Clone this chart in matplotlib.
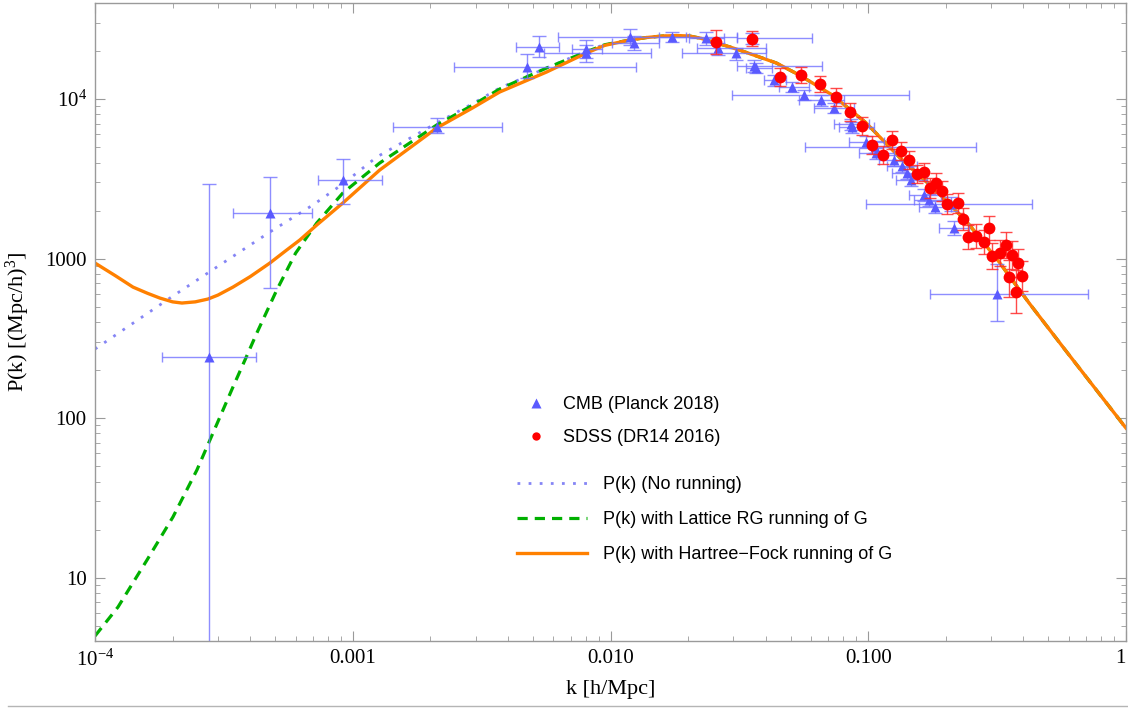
import numpy as np
import matplotlib
matplotlib.use('Agg')
import matplotlib.pyplot as plt
from matplotlib.lines import Line2D
from matplotlib.ticker import FixedLocator, LogLocator, NullFormatter

# model curves
hf_k = [1.0e-4, 1.2e-4, 1.404e-4, 1.6e-4, 1.786e-4, 2.0e-4, 2.174e-4, 2.45e-4, 2.742e-4, 3.0e-4,
        3.43e-4, 4.0e-4, 4.77e-4, 5.5e-4, 6.23e-4, 7.25e-4, 9.15e-4, 1.272e-3, 2.116e-3, 2.9e-3,
        3.713e-3, 5.65e-3, 8.07e-3, 0.0095, 0.01185, 0.0138, 0.0159, 0.018, 0.02024, 0.0225,
        0.02485, 0.028, 0.03162, 0.03781, 0.044, 0.054, 0.07253, 0.09824, 0.1319, 0.1771,
        0.2398, 0.322, 0.4207, 0.5854, 1.0]
hf_p = [937, 780, 662, 605, 565, 535, 526, 535, 557, 590,
        662, 770, 937, 1120, 1306, 1622, 2228, 3587, 6578, 8750,
        11060, 14770, 19430, 21700, 23430, 24300, 24830, 25000, 24830, 24000,
        22770, 21600, 20290, 18340, 16820, 14140, 10600, 7071, 4329, 2807,
        1719, 951, 526, 263, 86.5]

lat_k = [1.0e-4, 1.228e-4, 1.591e-4, 2.006e-4, 2.485e-4, 2.77e-4, 3.43e-4, 3.848e-4, 4.244e-4, 5.07e-4,
         6.0e-4, 7.25e-4, 9.15e-4, 1.272e-3, 2.116e-3, 2.9e-3, 3.713e-3, 5.65e-3, 8.07e-3, 0.0095,
         0.01185, 0.0138, 0.0159, 0.018, 0.02024, 0.0225, 0.02485, 0.028, 0.03162, 0.03781,
         0.044, 0.054, 0.07253, 0.09824, 0.1319, 0.1771, 0.2398, 0.322, 0.4207, 0.5854, 1.0]
lat_p = [4.30, 6.53, 12.87, 23.95, 47.2, 70.7, 156.5, 237.8, 341, 634,
         1080, 1670, 2575, 3970, 6871, 9100, 11550, 15650, 19800, 21900,
         23430, 24300, 24830, 25000, 24830, 24000, 22770, 21600, 20290, 18340,
         16820, 14140, 10600, 7071, 4329, 2807, 1719, 951, 526, 263, 86.5]

nr_k = [1.0e-4, 2.006e-4, 3.051e-4, 4.77e-4, 6.998e-4, 9.15e-4, 1.239e-3, 2.116e-3, 2.9e-3, 3.713e-3,
        5.65e-3, 8.07e-3, 0.0095, 0.01185, 0.0138, 0.0159, 0.018, 0.02024, 0.0225, 0.02485,
        0.028, 0.03162, 0.03781, 0.044, 0.054, 0.07253, 0.09824, 0.1319, 0.1771, 0.2398,
        0.322, 0.4207, 0.5854, 1.0]
nr_p = [270.7, 582, 910.5, 1466, 2164, 2932, 4329, 7071, 9300, 11720,
        15650, 20000, 22000, 23430, 24300, 24830, 25000, 24830, 24000, 22770,
        21600, 20290, 18340, 16820, 14140, 10600, 7071, 4329, 2807, 1719,
        951, 526, 263, 86.5]

# CMB (Planck 2018) points with error bounds
cmb_k = [2.77e-4, 4.77e-4, 9.15e-4, 2.12e-3, 4.73e-3, 5.26e-3, 8.07e-3, 8.07e-3, 0.01185, 0.01239,
         0.01739, 0.02355, 0.02621, 0.03079, 0.03551, 0.03615, 0.0368, 0.04323, 0.05074, 0.05649,
         0.06573, 0.07382, 0.08593, 0.0867, 0.09824, 0.1065, 0.1074, 0.1261, 0.1354, 0.1416,
         0.1468, 0.1649, 0.1724, 0.1818, 0.2098, 0.2156, 0.3162]
cmb_p = [241, 1929, 3106, 6674, 15870, 21180, 20580, 19430, 24470, 22440,
         24470, 24130, 20880, 19430, 24130, 16100, 15650, 13160, 11890, 10600,
         9856, 8783, 6970, 6674, 5376, 5002, 4586, 4146, 3801, 3436,
         3106, 2501, 2327, 2103, 2196, 1553, 599]
cmb_k_lo = [1.82e-4, 3.43e-4, 7.32e-4, 1.43e-3, 2.46e-3, 4.28e-3, 7.06e-3, 5.50e-3, 6.23e-3, 0.01018,
            0.01548, 0.02024, 0.02173, 0.01901, 0.03107, 0.03107, 0.03366, 0.03952, 0.04519, 0.02971,
            0.054, 0.06176, 0.07382, 0.07718, 0.08441, 0.05699, 0.09229, 0.1103, 0.1185, 0.1239,
            0.1284, 0.1442, 0.1508, 0.1577, 0.09824, 0.1884, 0.1739]
cmb_k_hi = [4.21e-4, 6.94e-4, 1.295e-3, 3.81e-3, 0.01261, 6.29e-3, 9.31e-3, 0.01442, 0.03107, 0.01548,
            0.0197, 0.02766, 0.04024, 0.04024, 0.06067, 0.06633, 0.04244, 0.04811, 0.05906, 0.1442,
            0.0807, 0.08826, 0.1009, 0.1055, 0.1153, 0.2622, 0.1261, 0.1468, 0.1548, 0.1649,
            0.1694, 0.1919, 0.2024, 0.2098, 0.4323, 0.2463, 0.7122]
cmb_p_lo = [1.0, 653, 2196, 6120, 13540, 18340, 18080, 17060, 21810, 20290,
            22770, 21810, 18880, 17560, 22120, 14770, 14560, 12060, 11060, 9856,
            9040, 8171, 6392, 6120, 4930, 4586, 4205, 3801, 3485, 3151,
            2848, 2294, 2134, 1929, 1985, 1404, 406]
cmb_p_hi = [2932, 3243, 4205, 7603, 19150, 24830, 23430, 21810, 27480, 24830,
            26310, 26310, 22440, 20880, 25930, 17560, 16820, 14140, 12780, 11390,
            10600, 9438, 7494, 7173, 5861, 5455, 4930, 4456, 4087, 3747,
            3387, 2727, 2538, 2294, 2430, 1719, 923]

# SDSS (DR14 2016) points
sdss_k = [0.02576, 0.03551, 0.04559, 0.05497, 0.06516, 0.07516, 0.08515, 0.09479, 0.1036, 0.1239,
          0.1143, 0.1342, 0.1442, 0.1548, 0.1649, 0.1739, 0.1835, 0.1936, 0.2024, 0.2234,
          0.2335, 0.2441, 0.2622, 0.2816, 0.2944, 0.3024, 0.3247, 0.3426, 0.3615, 0.3814,
          0.3519, 0.3952, 0.3747]
sdss_p = [22770, 23780, 13730, 14140, 12420, 10290, 8287, 6771, 5147, 5534,
          4456, 4721, 4146, 3387, 3485, 2767, 2975, 2650, 2196, 2228,
          1769, 1364, 1384, 1269, 1553, 1037, 1083, 1215, 1052, 937,
          766, 777, 617]
sdss_p_lo = [19150, 21490, 12060, 12600, 11060, 9040, 7280, 5946, 4520, 4859,
             3913, 4146, 3640, 2975, 3061, 2394, 2575, 2294, 1901, 1929,
             1509, 1147, 1164, 1067, 1306, 859, 897, 1007, 859, 766,
             574, 626, 455]
sdss_p_hi = [27080, 26690, 15650, 15870, 13940, 11720, 9438, 7715, 5861, 6301,
             5073, 5376, 4721, 3857, 3969, 3197, 3436, 3061, 2538, 2575,
             2073, 1622, 1646, 1509, 1847, 1251, 1306, 1466, 1287, 1147,
             979, 965, 847]

x_ticks = [1e-4, 1e-3, 1e-2, 1e-1, 1]
x_tick_labels = ['$10^{-4}$', '0.001', '0.010', '0.100', '1']
y_ticks = [10, 100, 1000, 1e4]
y_tick_labels = ['10', '100', '1000', '$10^{4}$']

CMB_COLOR = '#5a5aff'
CMB_ERR = '#7272ff'
SDSS_COLOR = '#ff0000'


def main():
    plt.rcParams['font.family'] = ['Liberation Serif', 'DejaVu Serif']
    plt.rcParams['mathtext.fontset'] = 'custom'
    plt.rcParams['mathtext.rm'] = 'Liberation Serif'
    plt.rcParams['mathtext.it'] = 'Liberation Serif:italic'

    fig = plt.figure(figsize=(11.28, 7.10), dpi=100)
    ax = fig.add_axes([95 / 1128, 69 / 710, 1031 / 1128, 638 / 710])
    ax.set_xscale('log')
    ax.set_yscale('log')

    nr_line, = ax.plot(nr_k, nr_p, color='#8585f5', lw=2.0, ls=(0, (1, 3)),
                       label='P(k) (No running)')
    lat_line, = ax.plot(lat_k, lat_p, color='#00b000', lw=2.3, ls=(0, (3.2, 2.2)),
                        label='P(k) with Lattice RG running of G')
    hf_line, = ax.plot(hf_k, hf_p, color='#ff8000', lw=2.4,
                       label='P(k) with Hartree\u2212Fock running of G')

    k = np.array(cmb_k)
    p = np.array(cmb_p)
    xerr = [k - np.array(cmb_k_lo), np.array(cmb_k_hi) - k]
    yerr = [p - np.array(cmb_p_lo), np.array(cmb_p_hi) - p]
    ax.errorbar(k, p, xerr=xerr, fmt='none', ecolor=CMB_ERR, elinewidth=1.0,
                capsize=3.5, capthick=1.0, alpha=0.8)
    ax.errorbar(k, p, yerr=yerr, fmt='none', ecolor=CMB_ERR, elinewidth=1.0,
                capsize=5, capthick=1.0, alpha=0.8)
    ax.plot(k, p, '^', ms=7.5, color=CMB_COLOR, mec='none')

    ks = np.array(sdss_k)
    ps = np.array(sdss_p)
    yerr_s = [ps - np.array(sdss_p_lo), np.array(sdss_p_hi) - ps]
    ax.errorbar(ks, ps, yerr=yerr_s, fmt='none', ecolor='#ff2a2a', elinewidth=1.0,
                capsize=4.5, capthick=1.0, alpha=0.85)
    ax.plot(ks, ps, 'o', ms=8.5, color=SDSS_COLOR, mec='none')

    ax.set_xlim(1e-4, 1)
    ax.set_ylim(4.0, 4.0e4)

    ax.xaxis.set_major_locator(FixedLocator(x_ticks))
    ax.set_xticklabels(x_tick_labels)
    ax.get_xticklabels()[-1].set_ha('right')
    ax.xaxis.set_minor_locator(LogLocator(base=10, subs=range(2, 10), numticks=20))
    ax.xaxis.set_minor_formatter(NullFormatter())
    ax.yaxis.set_major_locator(FixedLocator(y_ticks))
    ax.set_yticklabels(y_tick_labels)
    ax.yaxis.set_minor_locator(LogLocator(base=10, subs=range(2, 10), numticks=20))
    ax.yaxis.set_minor_formatter(NullFormatter())

    ax.tick_params(which='both', direction='in', top=True, right=True, color='#9a9a9a')
    ax.tick_params(which='major', length=7, width=0.8, labelsize=15, pad=6)
    ax.tick_params(which='minor', length=3.6, width=0.6)
    for s in ax.spines.values():
        s.set_color('#9a9a9a')
        s.set_linewidth(1.0)

    ax.set_xlabel('k [h/Mpc]', fontsize=16)
    ax.xaxis.set_label_coords(0.5, -0.061)
    ax.set_ylabel('P(k) [(Mpc/h)$^3$]', fontsize=16)
    ax.yaxis.set_label_coords(-0.061, 0.5)

    sans = {'family': 'Liberation Sans', 'size': 13}
    mk_cmb = Line2D([], [], ls='none', marker='^', ms=6.5, color=CMB_COLOR, mec='none')
    mk_sdss = Line2D([], [], ls='none', marker='o', ms=6, color=SDSS_COLOR, mec='none')
    leg1 = ax.legend([mk_cmb, mk_sdss], ['CMB (Planck 2018)', 'SDSS (DR14 2016)'],
                     loc='upper left', bbox_to_anchor=(527 / 1128, 1 - 396 / 710),
                     bbox_transform=fig.transFigure, frameon=False, prop=sans,
                     handlelength=1.0, handletextpad=1.0, labelspacing=0.9,
                     borderpad=0, borderaxespad=0)
    ax.add_artist(leg1)
    ax.legend([nr_line, lat_line, hf_line],
              [nr_line.get_label(), lat_line.get_label(), hf_line.get_label()],
              loc='upper left', bbox_to_anchor=(517 / 1128, 1 - 476 / 710),
              bbox_transform=fig.transFigure, frameon=False, prop=sans,
              handlelength=3.9, handletextpad=0.85, labelspacing=1.0,
              borderpad=0, borderaxespad=0)

    fig.add_artist(Line2D([0.007, 1.0], [0.0056, 0.0056], transform=fig.transFigure,
                          color='#b5b5b5', lw=1.0))

    fig.savefig('out.png', dpi=100)


if __name__ == '__main__':
    main()
